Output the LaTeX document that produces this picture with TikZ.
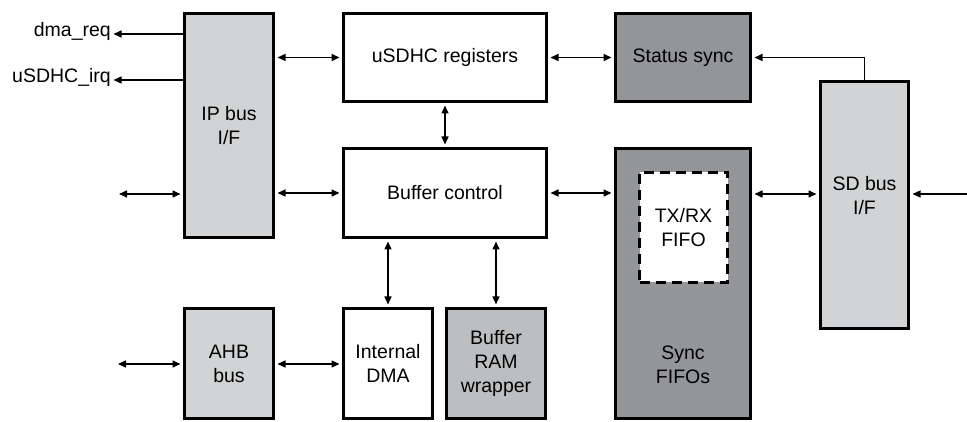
\documentclass[tikz,border=0pt]{standalone}
\usepackage{fontspec}
\setmainfont{Liberation Sans}
\usetikzlibrary{arrows.meta}
\definecolor{lightg}{HTML}{D1D3D4}
\definecolor{midg}{HTML}{BCBEC0}
\definecolor{darkg}{HTML}{939598}
\begin{document}
\begin{tikzpicture}[x=1pt,y=-1pt,
  blk/.style={draw=black,line width=3pt,align=center,inner sep=0pt,
    font=\fontsize{19.5pt}{24pt}\selectfont},
  dashblk/.style={blk,fill=white,dash pattern=on 10pt off 6pt},
  conn/.style={line width=1.5pt,{Triangle[length=8pt,width=7pt]}-{Triangle[length=8pt,width=7pt]},shorten <=2.5pt,shorten >=2.5pt},
  oneway/.style={line width=1.5pt,-{Triangle[length=8pt,width=7pt]},shorten >=2.5pt},
  lbl/.style={inner sep=0pt,font=\fontsize{19.5pt}{24pt}\selectfont}]
\useasboundingbox (0,0) rectangle (967,422);
% blocks
\node[blk,fill=lightg,minimum width=89pt,minimum height=224pt] (ip) at (229,125.5) {IP bus\\I/F};
\node[blk,fill=white,minimum width=203pt,minimum height=88pt] (reg) at (445,57.5) {uSDHC registers};
\node[blk,fill=darkg,minimum width=135pt,minimum height=88pt] (stat) at (683,57.5) {Status sync};
\node[blk,fill=white,minimum width=203pt,minimum height=89pt] (buf) at (445,193) {Buffer control};
\node[blk,fill=darkg,minimum width=135pt,minimum height=270pt,
  label={[lbl,align=center,yshift=-81.5pt]center:Sync\\FIFOs}] (sync) at (683,283.5) {};
\node[dashblk,minimum width=88pt,minimum height=110pt] (fifo) at (683.5,227.5) {TX/RX\\FIFO};
\node[blk,fill=lightg,minimum width=88pt,minimum height=247pt,
  label={[lbl,align=center,yshift=9pt]center:SD bus\\I/F}] (sd) at (864.5,205) {};
\node[blk,fill=lightg,minimum width=89pt,minimum height=110pt] (ahb) at (229,363.5) {AHB\\bus};
\node[blk,fill=white,minimum width=89pt,minimum height=110pt] (dma) at (388,363.5) {Internal\\DMA};
\node[blk,fill=midg,minimum width=99pt,minimum height=110pt] (ram) at (496,363.5) {Buffer\\RAM\\wrapper};
% side labels
\node[lbl,anchor=mid east] (dmareq) at (111,34) {dma\_req};
\node[lbl,anchor=mid east] (irq) at (111,80) {uSDHC\_irq};
% free ends
\coordinate (lin) at (119,194);
\coordinate (ain) at (118,364);
\coordinate (rin) at (967,194);
% connectors
\draw[oneway] (ip.west |- dmareq.mid east) -- (dmareq.mid east);
\draw[oneway] (ip.west |- irq.mid east) -- (irq.mid east);
\draw[conn,shorten <=0pt] (lin) -- (lin -| ip.west);
\draw[conn] (ip.east |- reg.west) -- (reg.west);
\draw[conn] (ip.east |- buf.west) -- (buf.west);
\draw[conn] (reg.east) -- (stat.west);
\draw[conn] (reg.south) -- (buf.north);
\draw[conn] (buf.east) -- (sync.west |- buf.east);
\draw[conn] (sync.east |- lin) -- (sd.west |- lin);
\draw[oneway] (rin) -- (sd.east |- rin);
\draw[oneway] (sd.north) |- (stat.east);
\draw[conn] (dma.north |- buf.south) -- (dma.north);
\draw[conn] (ram.north |- buf.south) -- (ram.north);
\draw[conn,shorten <=0pt] (ain) -- (ain -| ahb.west);
\draw[conn] (ahb.east |- ain) -- (dma.west |- ain);
\end{tikzpicture}
\end{document}
